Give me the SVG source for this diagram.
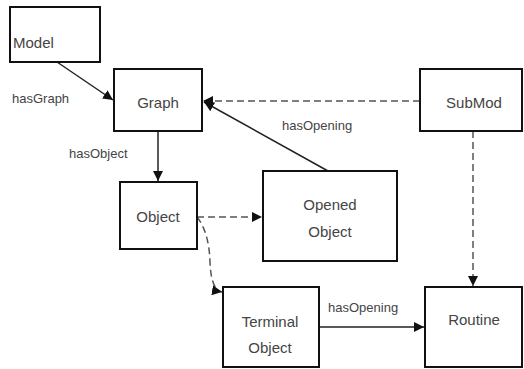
<svg xmlns="http://www.w3.org/2000/svg" width="524" height="369" viewBox="0 0 524 369">
<defs>
<style>
.box{fill:#fff;stroke:#111;stroke-width:2}
.t{font-family:"Liberation Sans",Arial,sans-serif;font-size:15px;fill:#444;text-anchor:middle}
.lbl{font-family:"Liberation Sans",Arial,sans-serif;font-size:13px;fill:#444}
.solid{fill:none;stroke:#222;stroke-width:1.5}
.dash{fill:none;stroke:#555;stroke-width:1.5;stroke-dasharray:7 4}
</style>
<marker id="ah" viewBox="0 0 10 10" refX="10" refY="5" markerWidth="10" markerHeight="10" markerUnits="userSpaceOnUse" orient="auto">
<path d="M0,0 L10,5 L0,10 z" fill="#111"/>
</marker>
</defs>
<rect width="524" height="369" fill="#fff"/>
<g id="connectors">
<line class="solid" x1="57" y1="62" x2="113" y2="100" marker-end="url(#ah)"/>
<line class="dash" x1="420" y1="101" x2="203" y2="101" marker-end="url(#ah)"/>
<line class="solid" x1="328" y1="171" x2="204" y2="102" marker-end="url(#ah)"/>
<line class="solid" x1="158" y1="131" x2="158" y2="181" marker-end="url(#ah)"/>
<line class="dash" x1="197" y1="217" x2="262" y2="217" marker-end="url(#ah)"/>
<path class="dash" d="M197,217 Q209,232 210,262 Q211,290 222,292" marker-end="url(#ah)"/>
<line class="dash" x1="473" y1="131" x2="473" y2="286" marker-end="url(#ah)"/>
<line class="solid" x1="319" y1="327" x2="424" y2="327" marker-end="url(#ah)"/>
<text class="lbl" x="12" y="103">hasGraph</text>
<text class="lbl" x="69" y="158">hasObject</text>
<text class="lbl" x="282" y="130">hasOpening</text>
<text class="lbl" x="328" y="312">hasOpening</text>
</g>
<g id="model"><rect class="box" x="10" y="7" width="90" height="55"/><text class="t" x="13" y="48" style="text-anchor:start">Model</text></g>
<g id="graph"><rect class="box" x="114" y="69" width="88" height="62"/><text class="t" x="158" y="108">Graph</text></g>
<g id="submod"><rect class="box" x="420" y="69" width="102" height="62"/><text class="t" x="474" y="108">SubMod</text></g>
<g id="object"><rect class="box" x="120" y="182" width="77" height="67"/><text class="t" x="158" y="222">Object</text></g>
<g id="opened-object"><rect class="box" x="263" y="171" width="134" height="90"/><text class="t" x="330" y="210">Opened</text><text class="t" x="330" y="237">Object</text></g>
<g id="terminal-object"><rect class="box" x="223" y="287" width="96" height="80"/><text class="t" x="270" y="327">Terminal</text><text class="t" x="270" y="353">Object</text></g>
<g id="routine"><rect class="box" x="425" y="287" width="97" height="80"/><text class="t" x="474" y="325">Routine</text></g>
</svg>
